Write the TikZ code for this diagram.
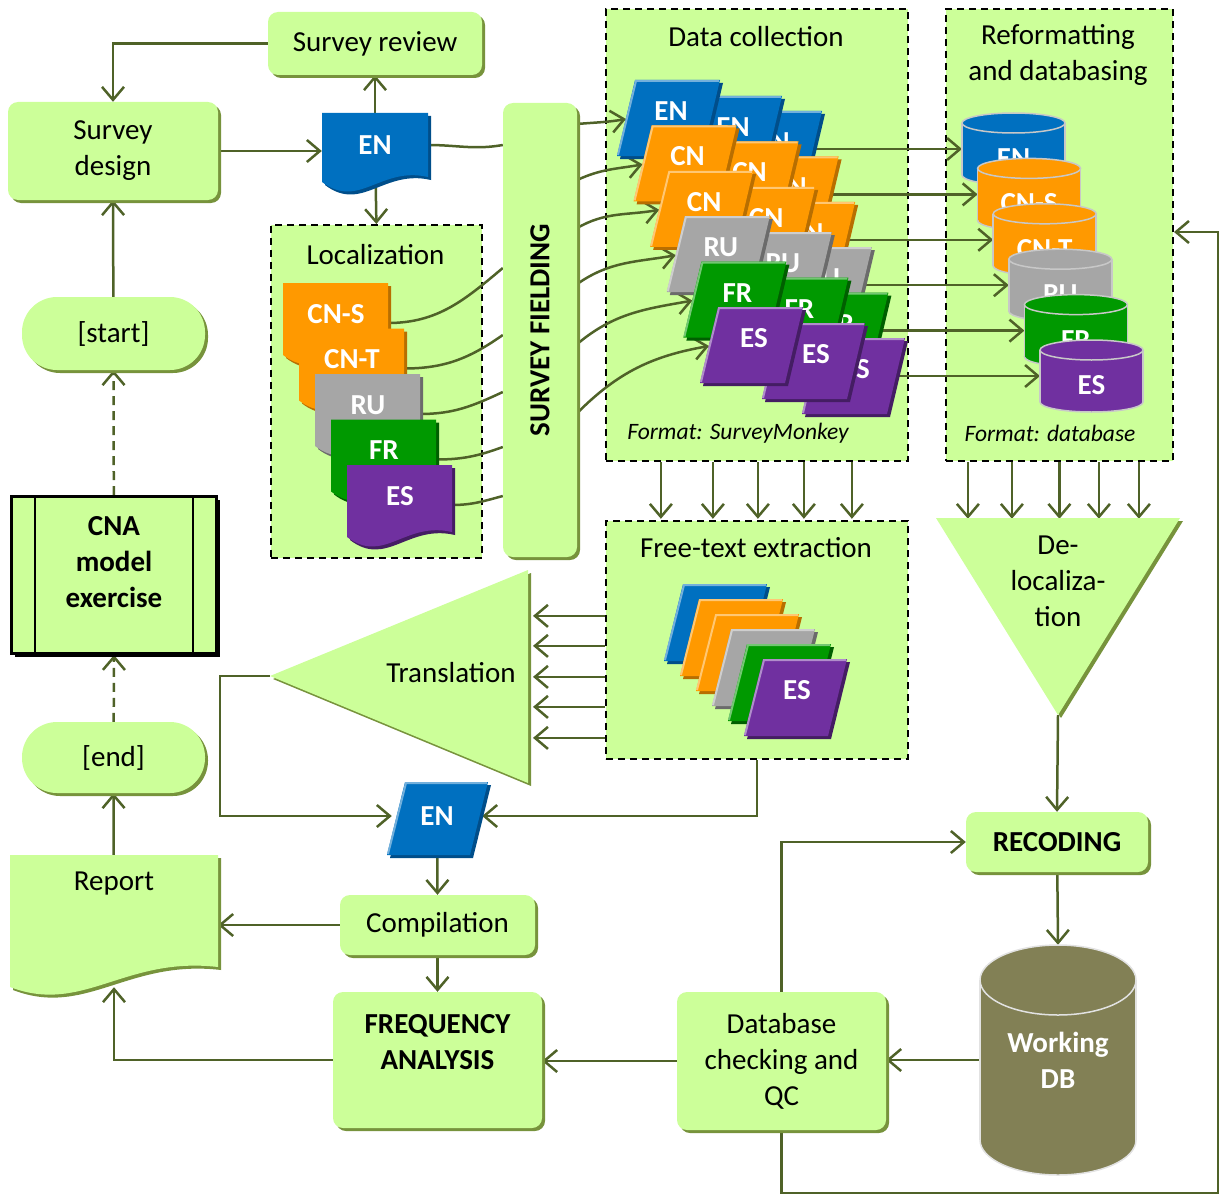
\documentclass[tikz,border=0pt]{standalone}
\usepackage{fontspec}
\setmainfont{Carlito}
\usetikzlibrary{arrows.meta,positioning,shadows,calc}
\pgfdeclarelayer{panels}
\pgfdeclarelayer{background}
\pgfsetlayers{panels,background,main}
\definecolor{leafgreen}{HTML}{CCFF99}
\definecolor{mossgreen}{HTML}{77933C}
\definecolor{arrowgreen}{HTML}{4F6228}
\definecolor{enblue}{HTML}{0070C0}
\definecolor{enshade}{HTML}{004E8A}
\definecolor{cnorange}{HTML}{FF9900}
\definecolor{cnshade}{HTML}{B86E00}
\definecolor{rugray}{HTML}{A6A6A6}
\definecolor{rushade}{HTML}{6B6B6B}
\definecolor{frgreen}{HTML}{009900}
\definecolor{frshade}{HTML}{005F00}
\definecolor{espurple}{HTML}{7030A0}
\definecolor{esshade}{HTML}{441D63}
\definecolor{rimgray}{HTML}{C8C8C8}
\definecolor{dbolive}{HTML}{828055}
\definecolor{dbrim}{HTML}{E2E2E2}
\newcommand\boxfont{\fontsize{29}{36}\selectfont}
\newcommand\docsheet[7]{%
  \fill[#7] ({#1+3},{#2+3}) -- ({#1+#3+3},{#2+3}) -- ({#1+#3+3},{#2+#4-#5+3})
    .. controls ({#1+0.55*#3+3},{#2+#4-#5-11+3}) and ({#1+0.35*#3+3},{#2+#4+28+3}) .. ({#1+3},{#2+#4+3}) -- cycle;
  \fill[#6] (#1,#2) -- ({#1+#3},#2) -- ({#1+#3},{#2+#4-#5})
    .. controls ({#1+0.55*#3},{#2+#4-#5-11}) and ({#1+0.35*#3},{#2+#4+28}) .. (#1,{#2+#4}) -- cycle;
}
\newcommand\slantcard[7]{%
  \fill[#7] ({#1+3},{#2+3}) -- ({#1+#3+3},{#2+3}) -- ({#1+#3-#5+3},{#2+#4+3}) -- ({#1-#5+3},{#2+#4+3}) -- cycle;
  \fill[#6] (#1,#2) -- ({#1+#3},#2) -- ({#1+#3-#5},{#2+#4}) -- ({#1-#5},{#2+#4}) -- cycle;
  \draw[#6!55!white, line width=2pt] ({#1-#5+1},{#2+#4-1}) -- ({#1+1},{#2+1}) -- ({#1+#3-1},{#2+1});
}
\newcommand\dbdrum[7]{%
  \filldraw[fill=#6, draw=#7, line width=1.5pt] ({#1+#3/2},{#2+#4-#5}) ellipse [x radius={#3/2*1pt}, y radius={#5*1pt}];
  \fill[#6] (#1,{#2+#5}) rectangle ({#1+#3},{#2+#4-#5});
  \draw[#7, line width=1.5pt] (#1,{#2+#5}) -- (#1,{#2+#4-#5}) ({#1+#3},{#2+#5}) -- ({#1+#3},{#2+#4-#5});
  \filldraw[fill=#6, draw=#7, line width=1.5pt] ({#1+#3/2},{#2+#5}) ellipse [x radius={#3/2*1pt}, y radius={#5*1pt}];
}
\begin{document}
\begin{tikzpicture}[
    x=1pt, y=-1pt,
    every node/.style={font=\boxfont},
    task/.style={
      fill=leafgreen, rounded corners=10pt, align=center,
      drop shadow={shadow xshift=3pt, shadow yshift=-3pt, fill=mossgreen, opacity=1},
    },
    boldtask/.style={task, font=\boxfont\bfseries},
    terminal/.style={task, rounded corners=35pt},
    process/.style={
      fill=leafgreen, draw=black, line width=3pt, align=center, font=\boxfont\bfseries,
      drop shadow={shadow xshift=3pt, shadow yshift=-3pt, fill=black, opacity=1},
    },
    panel/.style={
      draw=black, fill=leafgreen, line width=1.8pt, dash pattern=on 7pt off 5pt,
      anchor=north west,
    },
    tag/.style={text=white, font=\boxfont\bfseries, align=center},
    note/.style={font=\fontsize{23.5}{28}\selectfont\itshape},
    flow/.style={draw=arrowgreen, line width=2.5pt, -{Straight Barb[length=13pt,width=22pt]}},
    link/.style={draw=arrowgreen, line width=2.5pt},
    loose/.style={dash pattern=on 9pt off 6pt},
  ]
  \useasboundingbox (0,0) rectangle (1225,1196);
  \begin{pgfonlayer}{panels}
    \node[panel, minimum width=211pt, minimum height=333pt] (locpanel) at (270,224) {};
    \node[panel, minimum width=302pt, minimum height=452pt] (dcpanel) at (605,8) {};
    \node[panel, minimum width=227pt, minimum height=452pt] (refpanel) at (945,8) {};
    \node[panel, minimum width=302pt, minimum height=238pt] (ftxpanel) at (605,520) {};
  \end{pgfonlayer}
  \node (loctitle) at (375.5,255) {Localization};
  \node (dctitle) at (756,37) {Data collection};
  \node[align=center] (reftitle) at (1058,55) {Reformatting\\and databasing};
  \node (ftxtitle) at (756,548) {Free-text extraction};
  \node[note] (dcnote) at (738,433) {Format: SurveyMonkey};
  \node[note] (refnote) at (1050,433) {Format: database};

  \node[task, minimum width=214pt, minimum height=63pt] (review) at (375,43.5) {Survey review};
  \node[task, minimum width=210pt, minimum height=98pt] (design) at (113,151) {Survey\\design};
  \node[terminal, minimum width=183pt, minimum height=73pt] (start) at (113.5,333.5) {[start]};
  \node[process, minimum width=205pt, minimum height=157pt] (cna) at (114,575) {CNA\\model\\exercise\\[-10pt]~};
  \draw[line width=1.5pt] ([xshift=25pt]cna.north west) -- ([xshift=25pt]cna.south west);
  \draw[line width=1.5pt] ([xshift=-25pt]cna.north east) -- ([xshift=-25pt]cna.south east);
  \node[terminal, minimum width=183pt, minimum height=71pt] (finish) at (113.5,757.5) {[end]};
  \docsheet{10}{855}{208}{132}{20}{leafgreen}{mossgreen}
  \node[minimum width=208pt, minimum height=132pt, text depth=80pt] (report) at (114,921) {Report};

  \docsheet{322}{113}{106}{69}{5}{enblue}{enshade}
  \node[tag, minimum width=106pt, minimum height=64pt] (endoc) at (375,145) {EN};
  \foreach \r/\fc/\sc/\txt in {0/cnorange/cnshade/CN-S,1/cnorange/cnshade/CN-T,2/rugray/rushade/RU,3/frgreen/frshade/FR,4/espurple/esshade/ES}{
    \pgfmathsetmacro\px{283+16*\r}
    \pgfmathsetmacro\py{283+45.5*\r}
    \docsheet{\px}{\py}{105}{72}{5}{\fc}{\sc}
    \node[tag] (loc-\r) at (\px+53,\py+31) {\txt};
    \coordinate (loc-\r-e) at (\px+105,\py+40);
  }
  \node[task, minimum width=74pt, minimum height=454pt] (fielding) at (540,330) {\rotatebox{90}{\bfseries SURVEY FIELDING}};

  \foreach \c/\dx/\dy in {3/102/31,2/62/16,1/0/0}{
    \foreach \r/\fc/\sc/\txt in {0/enblue/enshade/EN,1/cnorange/cnshade/CN,2/cnorange/cnshade/CN,3/rugray/rushade/RU,4/frgreen/frshade/FR,5/espurple/esshade/ES}{
      \pgfmathsetmacro\px{635+\dx+16.6*\r}
      \pgfmathsetmacro\py{80+\dy+45.4*\r}
      \slantcard{\px}{\py}{85}{76}{18}{\fc}{\sc}
      \node[tag] (dc-\c-\r) at (\px+36,\py+31) {\txt};
      \coordinate (dc-\c-\r-w) at (\px-9,\py+39);
      \coordinate (dc-\c-\r-e) at (\px+76,\py+38);
    }
  }
  \foreach \r/\fc/\txt in {0/enblue/EN,1/cnorange/CN-S,2/cnorange/CN-T,3/rugray/RU,4/frgreen/FR,5/espurple/ES}{
    \pgfmathsetmacro\px{962+15.6*\r}
    \pgfmathsetmacro\py{113+45.4*\r}
    \dbdrum{\px}{\py}{103}{72}{10}{\fc}{rimgray}
    \node[tag] (rf-\r) at (\px+51.5,\py+45) {\txt};
    \coordinate (rf-\r-w) at (\px,\py+36);
  }
  \foreach \r/\fc/\sc in {0/enblue/enshade,1/cnorange/cnshade,2/cnorange/cnshade,3/rugray/rushade,4/frgreen/frshade,5/espurple/esshade}{
    \slantcard{683+16*\r}{584+15*\r}{84}{77}{19}{\fc}{\sc}
  }
  \node[tag] (ftx-es) at (797,690) {ES};

  \fill[mossgreen] (273,679) -- (531,573) -- (531,786) -- cycle;
  \fill[leafgreen] (270,676) -- (528,570) -- (528,783) -- cycle;
  \node (trans) at (451,673) {Translation};
  \coordinate (trans-tip) at (270,676);
  \slantcard{405}{782}{83}{73}{18}{enblue}{enshade}
  \node[tag, minimum width=90pt, minimum height=73pt] (enout) at (437,816) {EN};
  \node[task, minimum width=195pt, minimum height=60pt] (comp) at (437.5,925) {Compilation};
  \node[boldtask, minimum width=209pt, minimum height=136pt] (freq) at (437.5,1060) {FREQUENCY\\ANALYSIS\\[0pt]~};

  \fill[mossgreen] (939,521) -- (1183,521) -- (1061,718) -- cycle;
  \fill[leafgreen] (936,518) -- (1180,518) -- (1058,715) -- cycle;
  \node[align=center] (deloc) at (1058,581) {De-\\localiza-\\tion};
  \coordinate (deloc-tip) at (1058,715);
  \node[boldtask, minimum width=182pt, minimum height=60pt] (recode) at (1057,842) {RECODING};
  \dbdrum{980}{945}{156}{230}{35}{dbolive}{dbrim}
  \node[tag, minimum width=156pt, minimum height=230pt] (wdb) at (1058,1060) {Working\\DB};
  \node[task, minimum width=209pt, minimum height=138pt] (qc) at (781.5,1061) {Database\\checking and\\QC};
  \coordinate (rim) at (1218,1193);
  \coordinate (reentry) at (1174,232);

  \begin{pgfonlayer}{background}
    \draw[flow] (review.west) -| (design.north);
    \draw[flow] (design.east) -- (design.east -| endoc.west);
    \draw[flow] (endoc) -- (review.south);
    \draw[flow] (endoc) -- (locpanel.north);
    \draw[flow] (start) -- (design.south);
    \draw[flow, loose] (cna) -- (start.south);
    \draw[flow, loose] (finish) -- (cna.south);
    \draw[flow] (report) -- (finish.south);
    \draw[link] (endoc.east) to[out=0, in=190] ([yshift=185]fielding.west);
    \foreach \r/\s/\i in {0/62/220,1/-5/215,2/-62/205,3/-117/200,4/-166/195}
      \draw[link] (loc-\r-e) to[out=0, in=\i] ([yshift=\s]fielding.west);
    \foreach \r/\s/\o in {0/206/5,1/150/25,2/102/30,3/46/35,4/-14/40,5/-83/45}
      \draw[flow] ([yshift=\s]fielding.east) to[out=\o, in=190] (dc-1-\r-w);
    \foreach \r in {0,...,5}
      \draw[flow] (dc-3-\r-e) -- (rf-\r-w);
    \foreach \dx in {-96,-44,1,47,95}
      \draw[flow] ([xshift=\dx]dcpanel.south) -- ++(0,57);
    \foreach \dx in {-91.5,-47.5,0,39.5,79.5}
      \draw[flow] ([xshift=\dx]refpanel.south) -- ++(0,57);
    \foreach \dy in {24,-6,-37,-67,-98}
      \draw[flow] ([yshift=\dy]ftxpanel.west) -- ++(-72,0);
    \draw[flow] (trans-tip) -- ++(-50,0) |- (enout.west);
    \draw[flow] (ftxpanel.south) |- (enout.east);
    \draw[flow] (enout) -- (comp.north);
    \draw[flow] (comp) -- (comp -| report.east);
    \draw[flow] (comp) -- (freq.north);
    \draw[flow] (freq) -| (report.south);
    \draw[flow] (deloc-tip) -- (recode.north);
    \draw[flow] (recode) -- (wdb.north);
    \draw[flow] (wdb) -- (wdb -| qc.east);
    \draw[flow] (qc) -- (qc -| freq.east);
    \draw[flow] (qc) |- (recode.west);
    \draw[flow] (qc) |- (rim) |- (reentry);
  \end{pgfonlayer}
\end{tikzpicture}
\end{document}
